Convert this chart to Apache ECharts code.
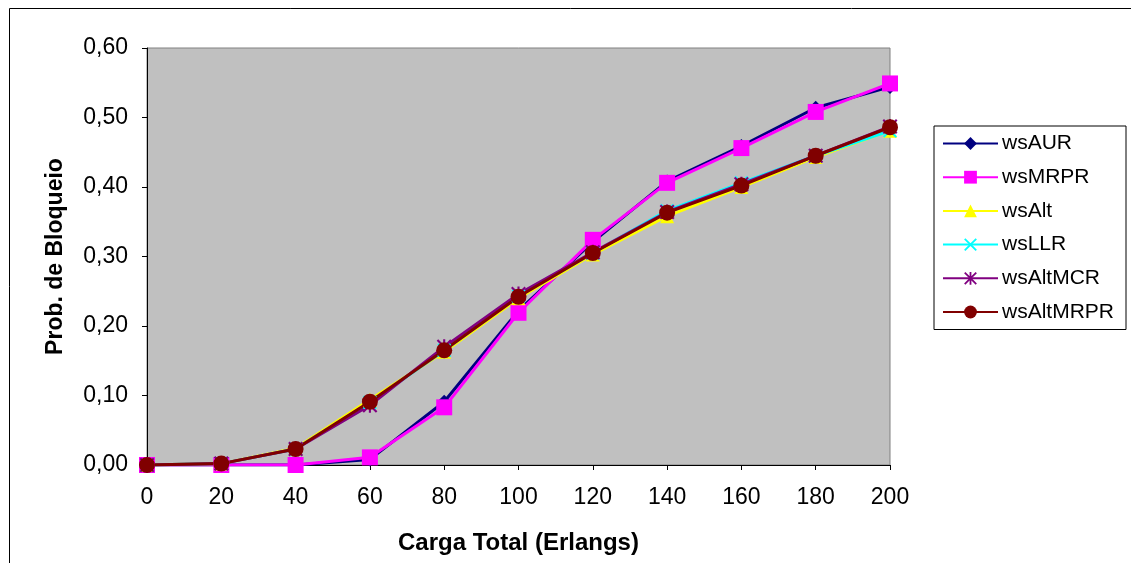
<!DOCTYPE html>
<html>
<head>
<meta charset="utf-8">
<script src="https://cdn.jsdelivr.net/npm/echarts@6/dist/echarts.min.js"></script>
<style>
  html, body { margin: 0; padding: 0; background: #fff; }
  #chart { width: 1131px; height: 563px; }
</style>
</head>
<body>
<div id="chart"></div>
<script>
// dados
var cargas = ['0', '20', '40', '60', '80', '100', '120', '140', '160', '180', '200'];
var wsAUR      = [0, 0, 0, 0.008, 0.091, 0.222, 0.321, 0.408, 0.459, 0.514, 0.544];
var wsMRPR     = [0, 0, 0, 0.011, 0.083, 0.219, 0.324, 0.406, 0.456, 0.508, 0.549];
var wsAlt      = [0, 0.002, 0.024, 0.094, 0.163, 0.240, 0.303, 0.358, 0.400, 0.443, 0.481];
var wsLLR      = [0, 0.002, 0.023, 0.090, 0.165, 0.243, 0.305, 0.366, 0.406, 0.445, 0.481];
var wsAltMCR   = [0, 0.002, 0.023, 0.086, 0.170, 0.246, 0.306, 0.364, 0.404, 0.445, 0.487];
var wsAltMRPR  = [0, 0.002, 0.023, 0.091, 0.165, 0.242, 0.305, 0.363, 0.402, 0.445, 0.486];
var yTicks = { min: 0, max: 0.6, interval: 0.1 };

var symX = 'path://M0,1L1,0L5,4L9,0L10,1L6,5L10,9L9,10L5,6L1,10L0,9L4,5Z';
var symStar = 'path://M0,1L1,0L5,4L9,0L10,1L6,5L10,9L9,10L5,6L1,10L0,9L4,5Z M4.3,0L5.7,0L5.7,10L4.3,10Z';

var fonte = 'Liberation Sans, Arial, sans-serif';

function serie(nome, dados, cor, simbolo, tamanho) {
    return {
        name: nome,
        type: 'line',
        data: dados,
        symbol: simbolo,
        symbolSize: tamanho,
        showAllSymbol: true,
        lineStyle: { color: cor, width: 3 },
        itemStyle: { color: cor, borderWidth: 0 },
        animation: false
    };
}

var chart = echarts.init(document.getElementById('chart'));

chart.setOption({
    backgroundColor: '#ffffff',
    animation: false,
    graphic: [{
        type: 'rect',
        shape: { x: 9.5, y: 8.5, width: 1130, height: 560 },
        style: { fill: 'none', stroke: '#000', lineWidth: 1 },
        silent: true
    }],
    grid: {
        left: 147, right: 241, top: 48, bottom: 98,
        show: true,
        backgroundColor: '#c0c0c0',
        borderColor: '#808080',
        borderWidth: 1
    },
    legend: {
        orient: 'vertical',
        left: 934,
        top: 126,
        padding: [7, 12, 7, 8],
        itemGap: 12.7,
        itemWidth: 55,
        itemHeight: 16,
        borderColor: '#000',
        borderWidth: 1,
        backgroundColor: '#fff',
        textStyle: { fontFamily: fonte, fontSize: 21, color: '#000', padding: [0, 0, 0, -1] },
        data: ['wsAUR', 'wsMRPR', 'wsAlt', 'wsLLR', 'wsAltMCR', 'wsAltMRPR']
    },
    xAxis: {
        type: 'category',
        data: cargas,
        boundaryGap: false,
        name: 'Carga Total (Erlangs)',
        nameLocation: 'middle',
        nameGap: 66,
        nameTextStyle: { fontFamily: fonte, fontSize: 24, fontWeight: 'bold', color: '#000' },
        axisLine: { lineStyle: { color: '#000', width: 1 } },
        axisTick: { show: true, length: 5, alignWithLabel: true, lineStyle: { color: '#000' } },
        axisLabel: { fontFamily: fonte, fontSize: 23, color: '#000', margin: 21 },
        splitLine: { show: false }
    },
    yAxis: {
        type: 'value',
        min: yTicks.min,
        max: yTicks.max,
        interval: yTicks.interval,
        name: 'Prob. de Bloqueio',
        nameLocation: 'middle',
        nameGap: 80,
        nameRotate: 90,
        nameTextStyle: { fontFamily: fonte, fontSize: 23, fontWeight: 'bold', color: '#000' },
        axisLine: { show: true, lineStyle: { color: '#000', width: 1 } },
        axisTick: { show: true, length: 5, lineStyle: { color: '#000' } },
        axisLabel: {
            fontFamily: fonte, fontSize: 23, color: '#000', margin: 19,
            formatter: function (v) { return v.toFixed(2).replace('.', ','); }
        },
        splitLine: { show: false }
    },
    series: [
        serie('wsAUR', wsAUR, '#000080', 'diamond', 14),
        serie('wsMRPR', wsMRPR, '#ff00ff', 'rect', 16),
        serie('wsAlt', wsAlt, '#ffff00', 'triangle', 14),
        serie('wsLLR', wsLLR, '#00ffff', symX, 14),
        serie('wsAltMCR', wsAltMCR, '#800080', symStar, 15),
        serie('wsAltMRPR', wsAltMRPR, '#800000', 'circle', 16)
    ]
});
</script>
</body>
</html>
